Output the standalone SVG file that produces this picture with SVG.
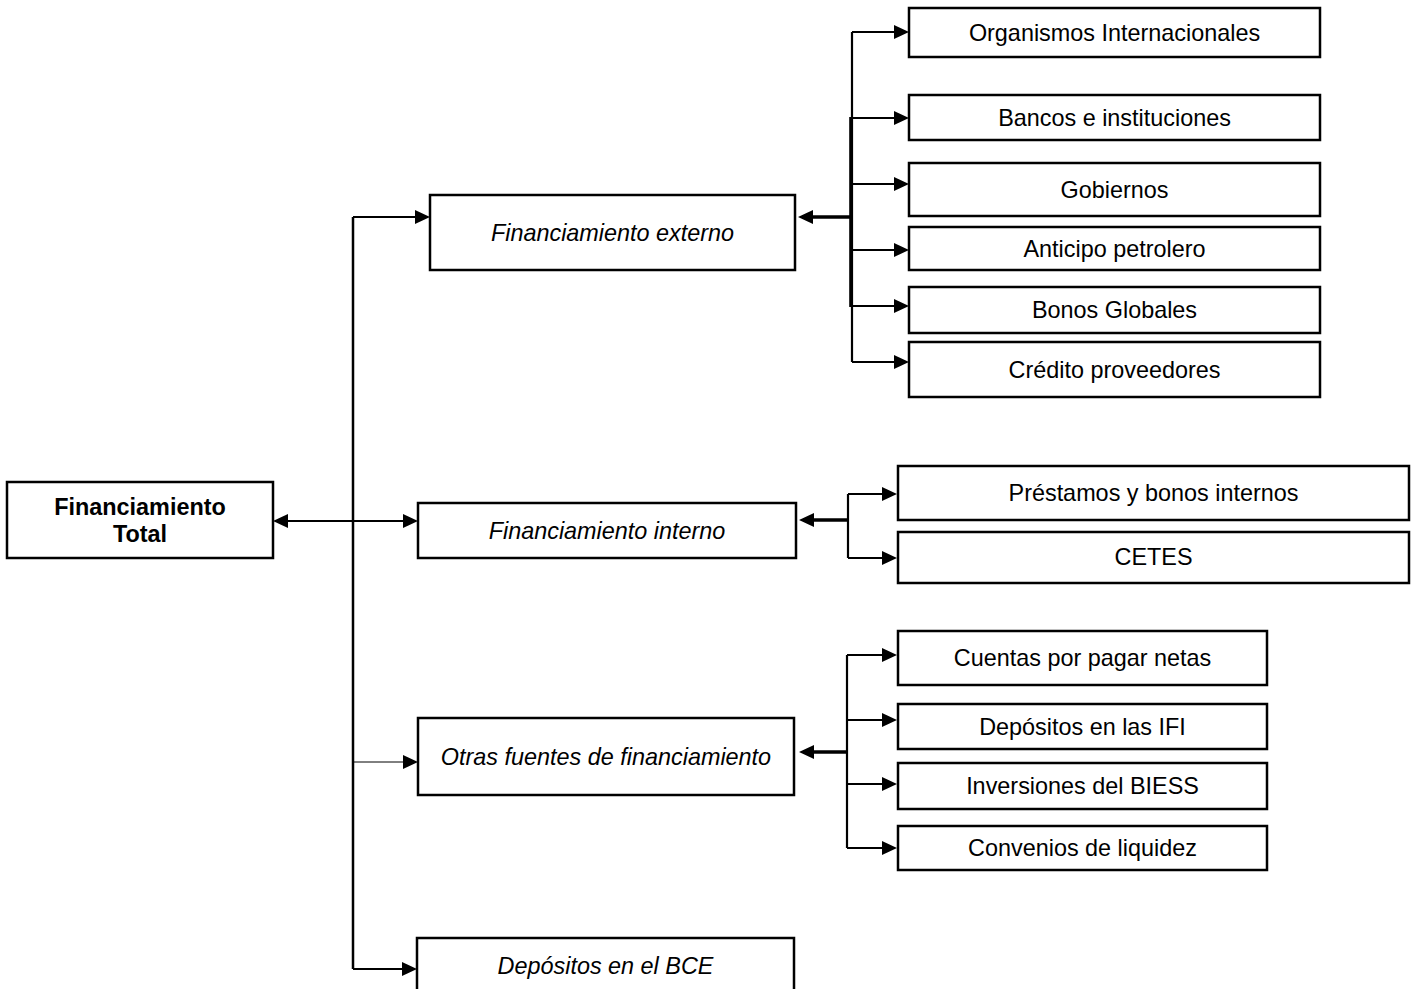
<svg xmlns="http://www.w3.org/2000/svg" width="1417" height="989" viewBox="0 0 1417 989">
<style>
.box{fill:#fff;stroke:#000;stroke-width:2.5}
.t{font-family:"Liberation Sans",Arial,sans-serif;font-size:23.4px;fill:#000;text-anchor:middle}
.it{font-style:italic}
.b{font-weight:bold}
.c{fill:none;stroke:#000;stroke-width:2.2}
.thick{stroke-width:3.6}
.thin{stroke-width:1}
</style>
<defs>
<marker id="ah" markerUnits="userSpaceOnUse" markerWidth="16" markerHeight="14" refX="11" refY="7" orient="auto-start-reverse">
<path d="M0,0 L15,7 L0,14 z" fill="#000"/>
</marker>
</defs>
<rect width="1417" height="989" fill="#fff"/>
<g id="connectors">
<path class="c" d="M353,217 V969" style="stroke-width:2.5"/>
<path class="c" d="M353,217 H426" marker-end="url(#ah)"/>
<path class="c" d="M277,521 H414" marker-start="url(#ah)" marker-end="url(#ah)"/>
<path class="c thin" d="M353,762 H414" marker-end="url(#ah)"/>
<path class="c" d="M353,969 H413" marker-end="url(#ah)"/>
<path class="c" d="M852,32 V362"/>
<path class="c thick" d="M851,117 V307"/>
<path class="c thick" d="M852,217 H802" marker-end="url(#ah)"/>
<path class="c" d="M852,32 H905" marker-end="url(#ah)"/>
<path class="c" d="M852,118 H905" marker-end="url(#ah)"/>
<path class="c" d="M852,184 H905" marker-end="url(#ah)"/>
<path class="c" d="M852,250 H905" marker-end="url(#ah)"/>
<path class="c" d="M852,306 H905" marker-end="url(#ah)"/>
<path class="c" d="M852,362 H905" marker-end="url(#ah)"/>
<path class="c" d="M848,494 V558"/>
<path class="c thick" d="M848,520 H803" marker-end="url(#ah)"/>
<path class="c" d="M848,494 H893" marker-end="url(#ah)"/>
<path class="c" d="M848,558 H893" marker-end="url(#ah)"/>
<path class="c" d="M847,655 V848"/>
<path class="c thick" d="M847,752 H803" marker-end="url(#ah)"/>
<path class="c" d="M847,655 H893" marker-end="url(#ah)"/>
<path class="c" d="M847,720 H893" marker-end="url(#ah)"/>
<path class="c" d="M847,784 H893" marker-end="url(#ah)"/>
<path class="c" d="M847,848 H893" marker-end="url(#ah)"/>
</g>
<g id="n-total">
<rect class="box" x="7" y="482" width="266" height="76"/>
<text class="t b" x="140" y="515">Financiamiento</text>
<text class="t b" x="140" y="542">Total</text>
</g>
<g id="n-externo">
<rect class="box" x="430" y="195" width="365" height="75"/>
<text class="t it" x="612.5" y="241">Financiamiento externo</text>
</g>
<g id="n-interno">
<rect class="box" x="418" y="503" width="378" height="55"/>
<text class="t it" x="607" y="539">Financiamiento interno</text>
</g>
<g id="n-otras">
<rect class="box" x="418" y="718" width="376" height="77"/>
<text class="t it" x="606" y="765">Otras fuentes de financiamiento</text>
</g>
<g id="n-bce">
<rect class="box" x="417" y="938" width="377" height="70"/>
<text class="t it" x="605.5" y="974">Depósitos en el BCE</text>
</g>
<g id="n-org">
<rect class="box" x="909" y="8" width="411" height="49"/>
<text class="t" x="1114.5" y="41">Organismos Internacionales</text>
</g>
<g id="n-bancos">
<rect class="box" x="909" y="95" width="411" height="45"/>
<text class="t" x="1114.5" y="126">Bancos e instituciones</text>
</g>
<g id="n-gobiernos">
<rect class="box" x="909" y="163" width="411" height="53"/>
<text class="t" x="1114.5" y="198">Gobiernos</text>
</g>
<g id="n-anticipo">
<rect class="box" x="909" y="227" width="411" height="43"/>
<text class="t" x="1114.5" y="257">Anticipo petrolero</text>
</g>
<g id="n-bonos">
<rect class="box" x="909" y="287" width="411" height="46"/>
<text class="t" x="1114.5" y="318">Bonos Globales</text>
</g>
<g id="n-credito">
<rect class="box" x="909" y="342" width="411" height="55"/>
<text class="t" x="1114.5" y="378">Crédito proveedores</text>
</g>
<g id="n-prestamos">
<rect class="box" x="898" y="466" width="511" height="54"/>
<text class="t" x="1153.5" y="501">Préstamos y bonos internos</text>
</g>
<g id="n-cetes">
<rect class="box" x="898" y="532" width="511" height="51"/>
<text class="t" x="1153.5" y="565">CETES</text>
</g>
<g id="n-cuentas">
<rect class="box" x="898" y="631" width="369" height="54"/>
<text class="t" x="1082.5" y="666">Cuentas por pagar netas</text>
</g>
<g id="n-depifi">
<rect class="box" x="898" y="704" width="369" height="45"/>
<text class="t" x="1082.5" y="735">Depósitos en las IFI</text>
</g>
<g id="n-biess">
<rect class="box" x="898" y="763" width="369" height="46"/>
<text class="t" x="1082.5" y="794">Inversiones del BIESS</text>
</g>
<g id="n-convenios">
<rect class="box" x="898" y="826" width="369" height="44"/>
<text class="t" x="1082.5" y="856">Convenios de liquidez</text>
</g>
</svg>
